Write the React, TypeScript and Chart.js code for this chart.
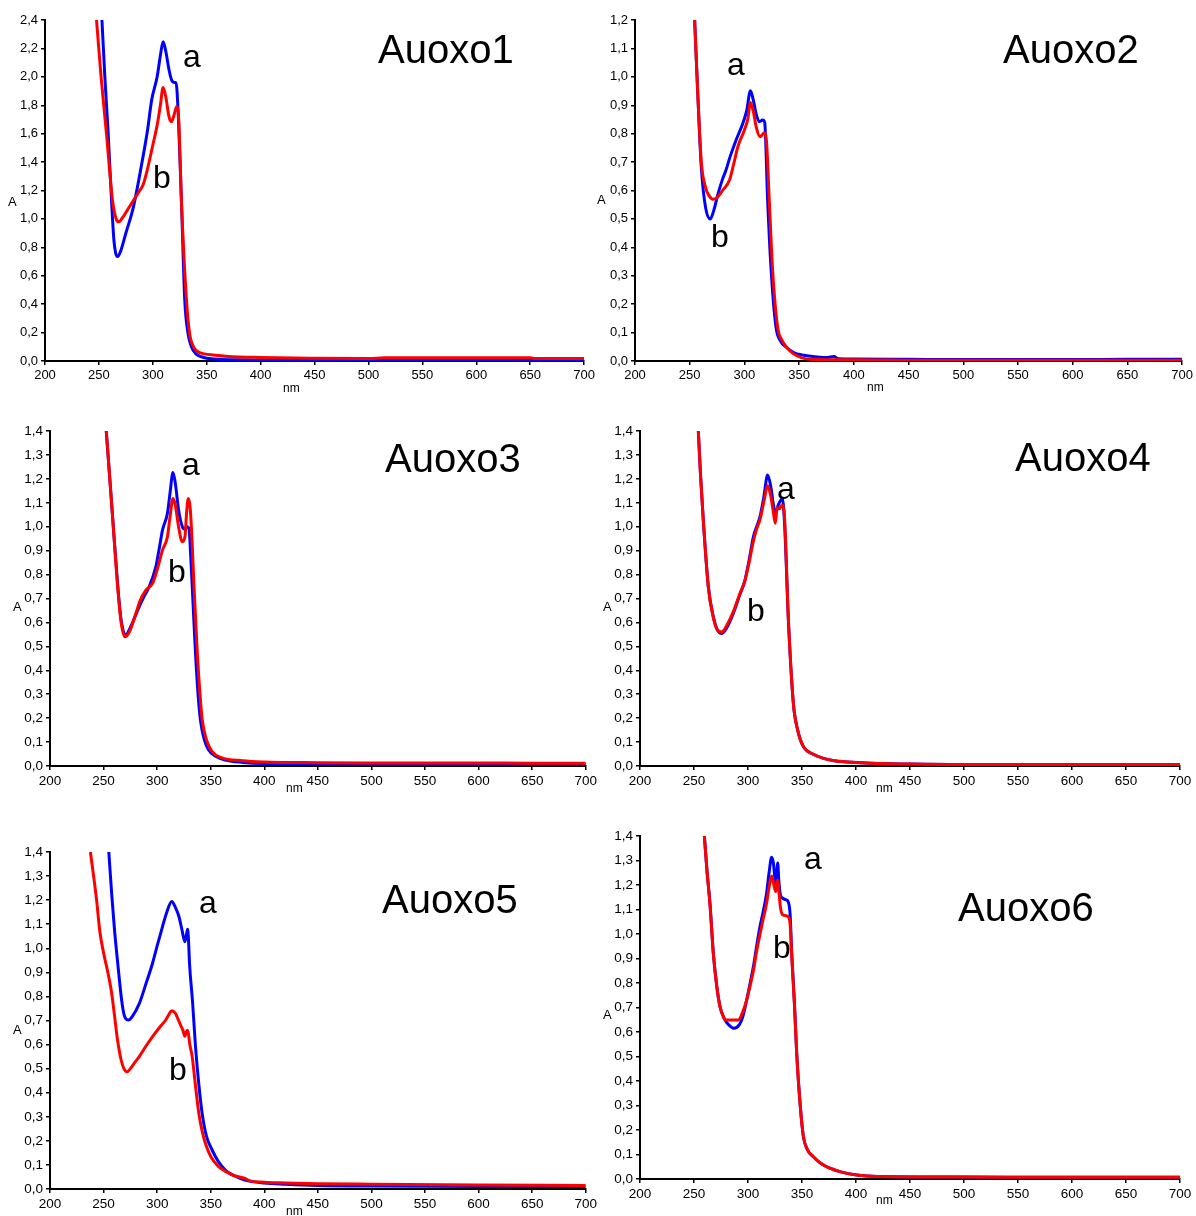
import React, { useEffect, useRef } from "react";
import { Chart, registerables } from "chart.js";
Chart.register(...registerables);

const FONT = '"Liberation Sans", Arial, Helvetica, sans-serif';

// ---------- tick / label text ----------
const titles = ["Auoxo1", "Auoxo2", "Auoxo3", "Auoxo4", "Auoxo5", "Auoxo6"];
const curveLabels = ["a", "b"];
const yAxisLabel = "A";
const xAxisLabel = "nm";
const xMin = 200;
const xMax = 700;
const xStep = 50;
const yMaxes = [2.4, 1.2, 1.4, 1.4, 1.4, 1.4];
const ySteps = [0.2, 0.1, 0.1, 0.1, 0.1, 0.1];

// ---------- Auoxo1 ----------
const p1aX = [252.8, 255.5, 258.6, 261.7, 263.9, 265.5, 267.2, 270, 275, 282, 290, 295, 299, 304, 307, 309.5, 312, 315, 317.3, 320, 321.5, 323.5, 326.5, 329.6, 332.5, 335.8, 340, 345, 350, 360, 380, 420, 500, 600, 700];
const p1aY = [2.4, 2.0, 1.6, 1.13, 0.85, 0.76, 0.735, 0.77, 0.9, 1.085, 1.4, 1.62, 1.84, 2.0, 2.15, 2.247, 2.18, 2.05, 1.98, 1.96, 1.96, 1.75, 1.13, 0.43, 0.2, 0.1, 0.05, 0.03, 0.02, 0.012, 0.008, 0.006, 0.005, 0.005, 0.005];
const p1bX = [247.8, 252, 257, 262.6, 266, 268.5, 272, 277, 282, 287, 291, 295, 300, 304, 307, 309.5, 312, 315, 317.3, 320, 322, 324, 326.5, 331.2, 334, 337.7, 342, 348, 355.8, 370, 400, 450, 500, 515, 550, 600, 650, 655, 700];
const p1bY = [2.4, 2.0, 1.6, 1.13, 1.0, 0.98, 1.01, 1.07, 1.13, 1.19, 1.24, 1.35, 1.52, 1.66, 1.8, 1.925, 1.86, 1.72, 1.684, 1.74, 1.79, 1.7, 1.13, 0.43, 0.2, 0.1, 0.065, 0.05, 0.042, 0.032, 0.025, 0.02, 0.018, 0.022, 0.022, 0.022, 0.022, 0.018, 0.018];

// ---------- Auoxo2 ----------
const p2aX = [254.5, 257.6, 260.6, 264.5, 268.8, 272, 276, 280, 283, 287, 292.4, 298.5, 302, 305.5, 308, 311, 313.6, 316.7, 318.5, 321.2, 324.2, 328.8, 333, 337.9, 345, 352.9, 365, 375, 381.8, 386, 400, 450, 500, 550, 600, 650, 700];
const p2aY = [1.2, 0.92, 0.68, 0.54, 0.5, 0.53, 0.59, 0.64, 0.67, 0.72, 0.778, 0.836, 0.88, 0.951, 0.92, 0.865, 0.842, 0.848, 0.84, 0.566, 0.332, 0.12, 0.07, 0.05, 0.03, 0.021, 0.015, 0.012, 0.016, 0.008, 0.007, 0.006, 0.005, 0.005, 0.005, 0.006, 0.006];
const p2bX = [254.5, 257.6, 260.6, 264.5, 268, 271.2, 275, 280, 286.4, 290, 294, 300, 303, 305.5, 308, 311, 314.2, 316, 318.2, 320, 322.7, 325.6, 330.3, 334, 339.4, 345, 352, 360, 400, 450, 500, 550, 600, 700];
const p2bY = [1.2, 0.92, 0.7, 0.61, 0.58, 0.569, 0.575, 0.6, 0.637, 0.69, 0.754, 0.813, 0.85, 0.91, 0.88, 0.82, 0.789, 0.795, 0.803, 0.78, 0.566, 0.33, 0.12, 0.075, 0.045, 0.025, 0.012, 0.006, 0.004, 0.003, 0.003, 0.003, 0.003, 0.003];

// ---------- Auoxo3 ----------
const p3aX = [252.5, 255, 258.6, 263.3, 266.4, 270.4, 274, 279, 283.3, 288, 292.6, 298.8, 302, 305, 309.6, 312, 314.8, 317, 320, 323.5, 326, 328, 329.8, 331.2, 333.5, 335.8, 338, 340.4, 344, 348, 355, 363.6, 380, 400, 450, 500, 550, 600, 650, 700];
const p3aY = [1.4, 1.25, 1.03, 0.75, 0.61, 0.547, 0.57, 0.62, 0.666, 0.71, 0.749, 0.833, 0.91, 0.986, 1.056, 1.14, 1.227, 1.18, 1.07, 1.0, 0.99, 1.0, 0.99, 0.889, 0.68, 0.471, 0.31, 0.192, 0.11, 0.067, 0.04, 0.025, 0.015, 0.01, 0.008, 0.007, 0.007, 0.007, 0.007, 0.007];
const p3bX = [252.5, 255, 258.6, 263.3, 266.4, 270, 274, 280.2, 284, 289.5, 295.7, 300, 305, 309.6, 312, 314.8, 317, 320, 323.5, 326, 327.5, 329.1, 330.8, 332.5, 334.4, 337.5, 340, 342.1, 346, 351.3, 360, 380, 400, 450, 500, 550, 600, 650, 700];
const p3bY = [1.4, 1.25, 1.03, 0.74, 0.6, 0.54, 0.56, 0.638, 0.69, 0.735, 0.763, 0.82, 0.902, 0.958, 1.04, 1.118, 1.09, 1.0, 0.937, 0.96, 1.06, 1.118, 1.08, 0.95, 0.749, 0.471, 0.3, 0.192, 0.11, 0.06, 0.035, 0.022, 0.017, 0.014, 0.013, 0.013, 0.013, 0.012, 0.012];

// ---------- Auoxo4 ----------
const p4aX = [254, 256, 258.6, 263.3, 267.9, 271.5, 275.6, 280, 286.4, 292, 297.2, 301, 305, 308, 311.1, 314.5, 318.2, 321, 324, 325.8, 328, 331.8, 334, 337.4, 342, 346, 351.3, 360, 369.8, 380, 400, 450, 500, 550, 600, 650, 700];
const p4aY = [1.4, 1.22, 1.028, 0.749, 0.624, 0.57, 0.554, 0.575, 0.638, 0.71, 0.777, 0.86, 0.958, 1.0, 1.042, 1.12, 1.216, 1.17, 1.08, 1.06, 1.09, 1.118, 1.0, 0.61, 0.262, 0.15, 0.081, 0.05, 0.032, 0.022, 0.015, 0.008, 0.006, 0.005, 0.005, 0.005, 0.005];
const p4bX = [254, 256, 258.6, 263.3, 267.9, 271.5, 275.6, 280, 286.4, 292, 297.2, 301, 305, 308, 311.1, 314.5, 318.2, 321, 323.5, 325.3, 327, 329, 331.5, 333.5, 337.4, 342, 346, 351.3, 360, 369.8, 380, 400, 450, 500, 550, 600, 650, 700];
const p4bY = [1.4, 1.22, 1.028, 0.745, 0.62, 0.57, 0.56, 0.585, 0.645, 0.715, 0.775, 0.85, 0.94, 0.99, 1.03, 1.1, 1.171, 1.13, 1.06, 1.014, 1.08, 1.075, 1.09, 1.06, 0.61, 0.262, 0.15, 0.081, 0.05, 0.032, 0.022, 0.015, 0.008, 0.006, 0.006, 0.006, 0.006, 0.006];

// ---------- Auoxo5 ----------
const p5aX = [254.9, 257.5, 260.2, 262.5, 264.8, 267, 269.4, 273.4, 277, 283.3, 289, 295.7, 300, 305, 309, 313.6, 317, 320.4, 323, 325.9, 327.5, 328.4, 329.2, 330.2, 333, 335.8, 339, 342, 346, 351.3, 357, 363.6, 372, 382, 400, 420, 450, 500, 600, 700];
const p5aY = [1.4, 1.23, 1.076, 0.97, 0.868, 0.78, 0.72, 0.702, 0.718, 0.77, 0.845, 0.938, 1.01, 1.09, 1.15, 1.194, 1.17, 1.131, 1.08, 1.027, 1.06, 1.079, 1.04, 0.938, 0.78, 0.591, 0.43, 0.314, 0.22, 0.162, 0.115, 0.079, 0.055, 0.037, 0.025, 0.02, 0.015, 0.012, 0.01, 0.01];
const p5bX = [237.7, 241, 243.5, 246.5, 250.5, 254, 257.5, 260.2, 263, 266.4, 269, 271.9, 275, 279, 283.3, 289, 295.7, 302, 308, 311, 313.6, 317, 320, 322, 324, 325.9, 327, 328, 329, 330.5, 332.7, 336, 338.9, 342, 345, 350, 357.4, 365, 372, 382, 386, 400, 420, 450, 500, 600, 700];
const p5bY = [1.4, 1.29, 1.2, 1.07, 0.97, 0.9, 0.815, 0.72, 0.62, 0.536, 0.5, 0.487, 0.5, 0.525, 0.55, 0.59, 0.633, 0.67, 0.702, 0.725, 0.741, 0.73, 0.7, 0.68, 0.66, 0.635, 0.65, 0.66, 0.65, 0.6, 0.55, 0.42, 0.314, 0.24, 0.19, 0.135, 0.093, 0.07, 0.055, 0.044, 0.035, 0.028, 0.025, 0.022, 0.02, 0.017, 0.015];

// ---------- Auoxo6 ----------
const p6aX = [259.6, 262, 264.8, 267.9, 271, 274.1, 278, 282, 287, 292, 295, 298.8, 302, 305, 308, 311.1, 314, 317, 319.5, 321.9, 323.5, 325.6, 327, 327.5, 328.5, 330, 332.1, 335, 337.4, 339, 340.5, 343, 345.1, 348, 351.3, 355, 360.5, 368, 375.9, 385, 400.6, 420, 500, 600, 700];
const p6aY = [1.4, 1.26, 1.125, 0.921, 0.79, 0.703, 0.655, 0.63, 0.615, 0.63, 0.66, 0.731, 0.8, 0.867, 0.95, 1.03, 1.09, 1.16, 1.25, 1.313, 1.29, 1.207, 1.27, 1.29, 1.22, 1.16, 1.146, 1.14, 1.13, 1.08, 0.921, 0.72, 0.513, 0.32, 0.173, 0.12, 0.091, 0.062, 0.044, 0.03, 0.016, 0.01, 0.008, 0.007, 0.007];
const p6bX = [259.6, 262, 264.8, 267.9, 271, 274.1, 277, 279, 285, 291, 295, 298.8, 302, 305, 308, 311.1, 314, 317, 319.5, 321.9, 323.5, 325.6, 327, 327.5, 328.5, 330, 332.1, 335, 337.4, 339, 340.5, 343, 345.1, 348, 351.3, 355, 360.5, 368, 375.9, 385, 400.6, 420, 500, 600, 700];
const p6bY = [1.4, 1.26, 1.12, 0.921, 0.79, 0.703, 0.665, 0.649, 0.649, 0.649, 0.68, 0.731, 0.79, 0.85, 0.93, 0.999, 1.06, 1.12, 1.19, 1.237, 1.21, 1.173, 1.21, 1.22, 1.18, 1.11, 1.078, 1.075, 1.07, 1.04, 0.91, 0.71, 0.513, 0.32, 0.173, 0.12, 0.091, 0.062, 0.044, 0.03, 0.016, 0.01, 0.008, 0.007, 0.007];

const seriesA = [[p1aX, p1aY], [p2aX, p2aY], [p3aX, p3aY], [p4aX, p4aY], [p5aX, p5aY], [p6aX, p6aY]];
const seriesB = [[p1bX, p1bY], [p2bX, p2bY], [p3bX, p3bY], [p4bX, p4bY], [p5bX, p5bY], [p6bX, p6bY]];

// ---------- layout (pixels) ----------
type Layout = {
  left: number; top: number; width: number; height: number;
  yW: number; padTop: number; padRight: number; xH: number; tick: number;
  title: [number, number]; a: [number, number]; b: [number, number];
  yl: [number, number]; xl: [number, number];
};
const layouts: Layout[] = [
  { left: 0, top: 0, width: 598, height: 400, yW: 45, padTop: 20, padRight: 13, xH: 39, tick: 13,
    title: [378, 63], a: [183, 67], b: [153, 188], yl: [8, 206], xl: [283, 392] },
  { left: 590, top: 0, width: 606, height: 400, yW: 45, padTop: 20, padRight: 12, xH: 39, tick: 13,
    title: [1003, 63], a: [727, 75], b: [711, 247], yl: [597, 204], xl: [867, 391] },
  { left: 0, top: 410, width: 600, height: 400, yW: 50, padTop: 21, padRight: 11, xH: 44, tick: 13.5,
    title: [385, 472], a: [182, 475], b: [168, 582], yl: [13, 611], xl: [286, 792] },
  { left: 590, top: 410, width: 606, height: 400, yW: 50, padTop: 21, padRight: 16, xH: 44, tick: 13.5,
    title: [1015, 471], a: [777, 499], b: [747, 621], yl: [603, 611], xl: [876, 792] },
  { left: 0, top: 830, width: 600, height: 386, yW: 50, padTop: 22, padRight: 10, xH: 27, tick: 13.5,
    title: [382, 913], a: [199, 913], b: [169, 1080], yl: [13, 1034], xl: [286, 1215] },
  { left: 590, top: 816, width: 606, height: 400, yW: 50, padTop: 20, padRight: 16, xH: 37, tick: 13.5,
    title: [958, 921], a: [804, 869], b: [773, 958], yl: [603, 1019], xl: [876, 1204] },
];

const BLUE = "#0000ff";
const RED = "#ff0000";

function fmt(v: number) {
  return Number(v).toFixed(1).replace(".", ",");
}

function Panel({ idx }: { idx: number }) {
  const ref = useRef<HTMLCanvasElement>(null);
  const L = layouts[idx];
  useEffect(() => {
    const [ax, ay] = seriesA[idx];
    const [bx, by] = seriesB[idx];
    const mk = (xs: number[], ys: number[], color: string) => ({
      data: xs.map((x, i) => ({ x, y: ys[i] })),
      borderColor: color,
      backgroundColor: color,
      borderWidth: 3,
      pointRadius: 0,
      cubicInterpolationMode: "monotone" as const,
      fill: false,
    });
    const tickFont = { family: FONT, size: L.tick };
    const chart = new Chart(ref.current!, {
      type: "line",
      data: { datasets: [mk(bx, by, RED), mk(ax, ay, BLUE)] },
      options: {
        animation: false,
        responsive: false,
        events: [],
        layout: { padding: { top: L.padTop, right: L.padRight, left: 0, bottom: 0 } },
        plugins: { legend: { display: false }, tooltip: { enabled: false }, title: { display: false } },
        scales: {
          x: {
            type: "linear",
            min: xMin,
            max: xMax,
            ticks: { stepSize: xStep, color: "#000", font: tickFont, padding: 3, maxRotation: 0, autoSkip: false },
            grid: { drawOnChartArea: false, drawTicks: true, tickLength: 4, color: "#000", lineWidth: 1.5 },
            border: { display: true, color: "#000", width: 2 },
            afterFit: (s: any) => { s.height = L.xH; },
          },
          y: {
            type: "linear",
            min: 0,
            max: yMaxes[idx],
            ticks: { stepSize: ySteps[idx], color: "#000", font: tickFont, padding: 3, autoSkip: false, callback: (v: any) => fmt(v) },
            grid: { drawOnChartArea: false, drawTicks: true, tickLength: 4, color: "#000", lineWidth: 1.5 },
            border: { display: true, color: "#000", width: 2 },
            afterFit: (s: any) => { s.width = L.yW; },
          },
        },
      },
    } as any);
    return () => chart.destroy();
  }, [idx]);
  return (
    <canvas
      ref={ref}
      width={L.width}
      height={L.height}
      style={{ position: "absolute", left: L.left, top: L.top, width: L.width, height: L.height }}
    />
  );
}

function Txt({ x, base, size, children }: { x: number; base: number; size: number; children: React.ReactNode }) {
  return (
    <div
      style={{
        position: "absolute",
        left: x,
        top: base - 0.8465 * size,
        fontFamily: FONT,
        fontSize: size,
        lineHeight: `${size}px`,
        color: "#000",
        whiteSpace: "nowrap",
      }}
    >
      {children}
    </div>
  );
}

export default function App() {
  return (
    <div style={{ position: "absolute", left: 0, top: 0, width: 1196, height: 1216, background: "#fff", overflow: "hidden" }}>
      {layouts.map((L, i) => (
        <React.Fragment key={i}>
          <Panel idx={i} />
          <Txt x={L.title[0]} base={L.title[1]} size={40}>{titles[i]}</Txt>
          <Txt x={L.a[0]} base={L.a[1]} size={32}>{curveLabels[0]}</Txt>
          <Txt x={L.b[0]} base={L.b[1]} size={32}>{curveLabels[1]}</Txt>
          <Txt x={L.yl[0]} base={L.yl[1]} size={13}>{yAxisLabel}</Txt>
          <Txt x={L.xl[0]} base={L.xl[1]} size={12}>{xAxisLabel}</Txt>
        </React.Fragment>
      ))}
    </div>
  );
}
